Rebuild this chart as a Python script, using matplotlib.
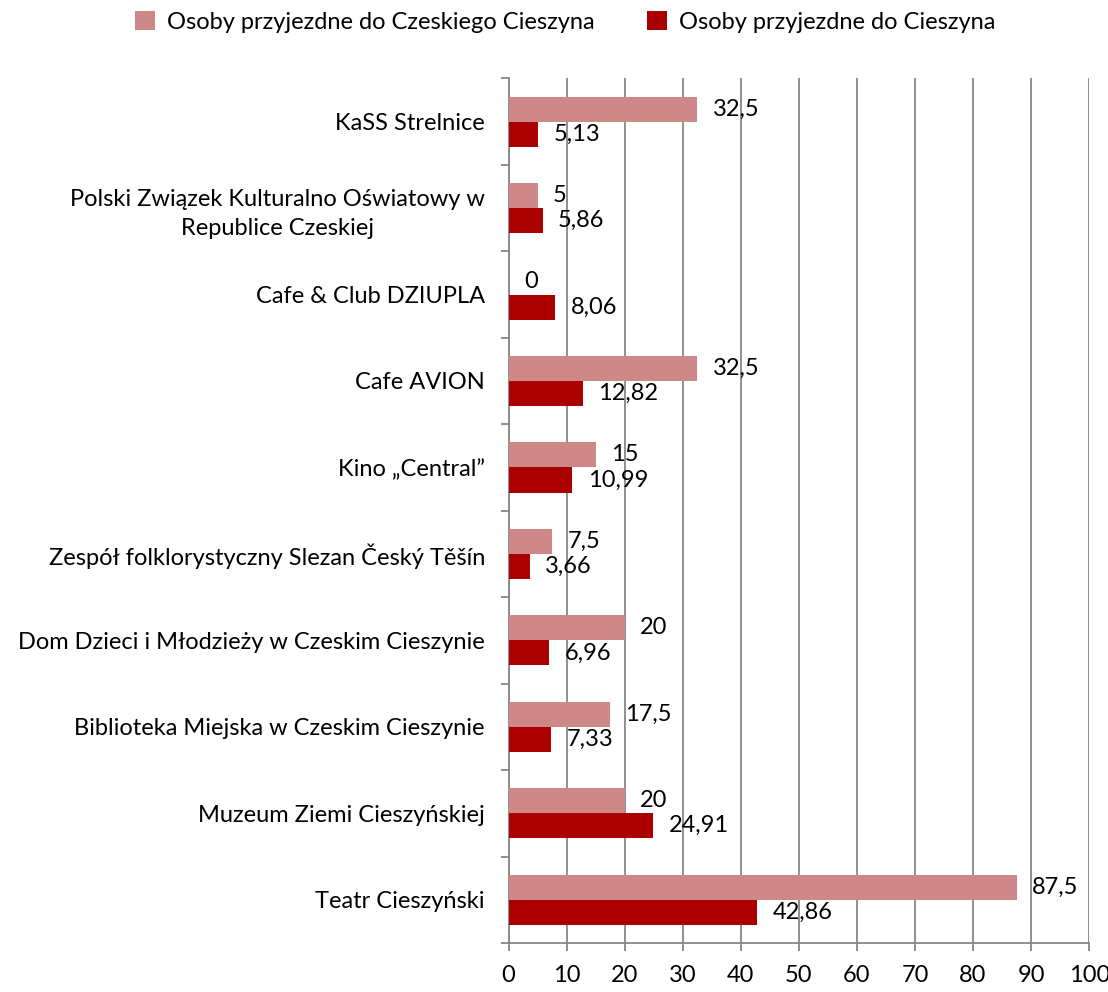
import numpy as np
import matplotlib
matplotlib.use('Agg')
import matplotlib.pyplot as plt

plt.rcParams['font.family'] = ['Lato', 'DejaVu Sans']

# data, top to bottom as in the chart
categories = ['KaSS Strelnice',
              'Polski Związek Kulturalno Oświatowy w\nRepublice Czeskiej',
              'Cafe & Club DZIUPLA',
              'Cafe AVION',
              'Kino „Central”',
              'Zespół folklorystyczny Slezan Český Těšín',
              'Dom Dzieci i Młodzieży w Czeskim Cieszynie',
              'Biblioteka Miejska w Czeskim Cieszynie',
              'Muzeum Ziemi Cieszyńskiej',
              'Teatr Cieszyński']
czeski = [32.5, 5, 0, 32.5, 15, 7.5, 20, 17.5, 20, 87.5]
cieszyn = [5.13, 5.86, 8.06, 12.82, 10.99, 3.66, 6.96, 7.33, 24.91, 42.86]
czeski_lbl = ['32,5', '5', '0', '32,5', '15', '7,5', '20', '17,5', '20', '87,5']
cieszyn_lbl = ['5,13', '5,86', '8,06', '12,82', '10,99', '3,66', '6,96', '7,33', '24,91', '42,86']

c_light = '#CF8888'
c_dark = '#AA0000'
grid_c = '#878787'
fs = 17

fig = plt.figure(figsize=(11.08, 9.92), dpi=100)
ax = fig.add_axes([0.459, 0.0494, 0.524, 0.8716])

y = np.arange(len(categories))
h = 0.29
b1 = ax.barh(y - h / 2, czeski, height=h, color=c_light, label='Osoby przyjezdne do Czeskiego Cieszyna', zorder=3)
b2 = ax.barh(y + h / 2, cieszyn, height=h, color=c_dark, label='Osoby przyjezdne do Cieszyna', zorder=3)

for bars, lbls in ((b1, czeski_lbl), (b2, cieszyn_lbl)):
    for bar, t in zip(bars, lbls):
        ax.annotate(t, (bar.get_width(), bar.get_y() + bar.get_height() / 2),
                    xytext=(11, 0), textcoords='offset points',
                    va='center', ha='left', fontsize=fs)

ax.set_xlim(0, 100)
ax.set_ylim(len(categories) - 0.5, -0.5)
ax.set_xticks(np.arange(0, 101, 10))
ax.tick_params(axis='x', labelsize=fs, length=6, width=1.3, color=grid_c, pad=10)
ax.xaxis.grid(True, color=grid_c, linewidth=1.3, zorder=0)

ax.set_yticks(y)
ax.set_yticklabels(categories, fontsize=fs)
ax.tick_params(axis='y', length=0, pad=17)
ax.set_yticks(np.arange(-0.5, len(categories), 1), minor=True)
ax.tick_params(axis='y', which='minor', length=6, width=1.3, color=grid_c)
for lbl in ax.get_yticklabels():
    lbl.set_multialignment('center')
    lbl.set_linespacing(1.45)

for s in ('top', 'right'):
    ax.spines[s].set_visible(False)
for s in ('left', 'bottom'):
    ax.spines[s].set_color(grid_c)
    ax.spines[s].set_linewidth(1.3)

fig.legend(handles=[b1, b2], loc='upper center', bbox_to_anchor=(0.51, 1.01),
           ncol=2, frameon=False, fontsize=fs, handlelength=0.85, handleheight=0.85,
           columnspacing=2.2, handletextpad=0.5)

fig.savefig('out.png', dpi=100)
